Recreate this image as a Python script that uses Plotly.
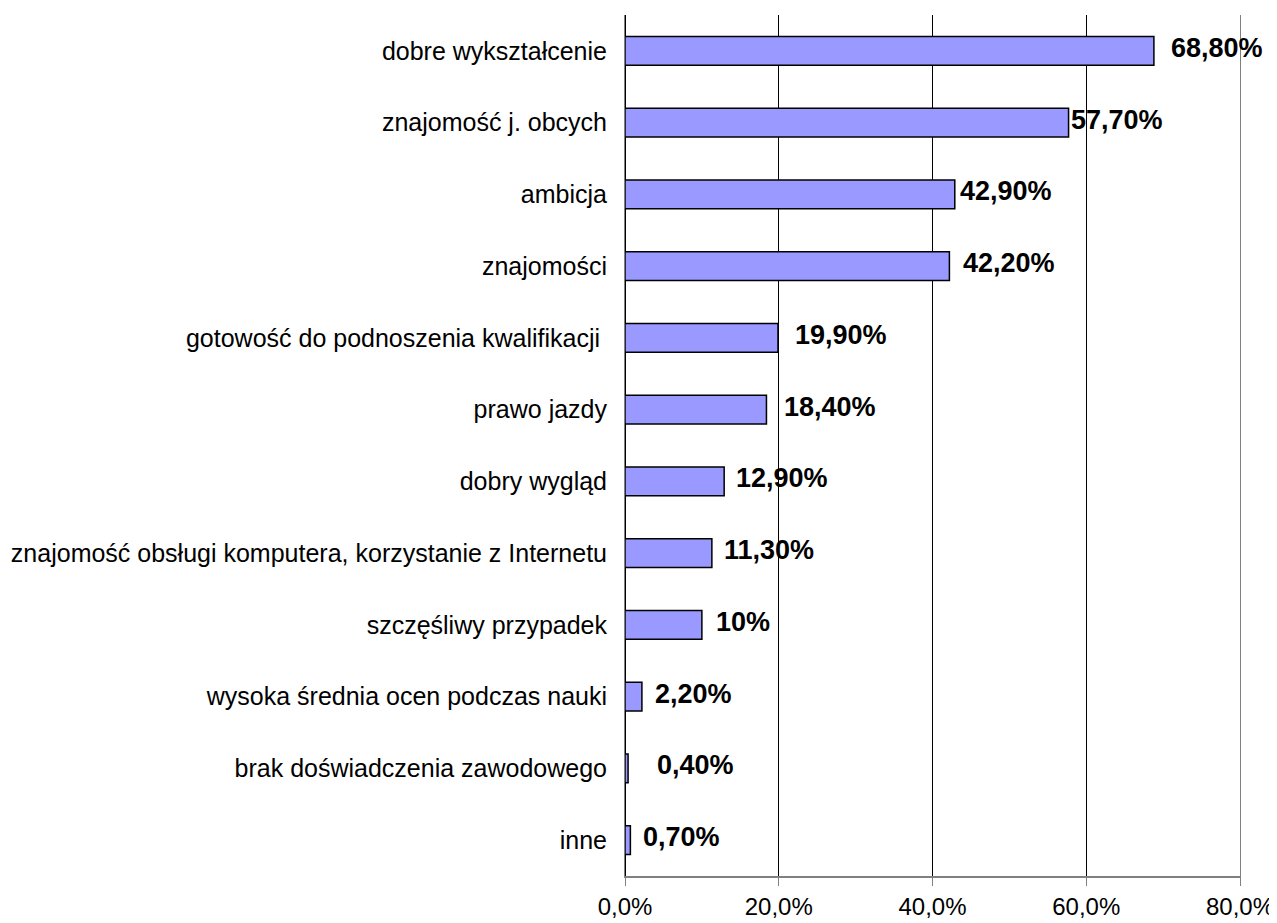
import plotly.graph_objects as go

categories = [
    "dobre wykształcenie",
    "znajomość j. obcych",
    "ambicja",
    "znajomości",
    "gotowość do podnoszenia kwalifikacji ",
    "prawo jazdy",
    "dobry wygląd",
    "znajomość obsługi komputera, korzystanie z Internetu",
    "szczęśliwy przypadek",
    "wysoka średnia ocen podczas nauki",
    "brak doświadczenia zawodowego",
    "inne",
]
values = [68.8, 57.7, 42.9, 42.2, 19.9, 18.4, 12.9, 11.3, 10.0, 2.2, 0.4, 0.7]
value_labels = ["68,80%", "57,70%", "42,90%", "42,20%", "19,90%", "18,40%",
                "12,90%", "11,30%", "10%", "2,20%", "0,40%", "0,70%"]
x_ticks = [0, 20, 40, 60, 80]
x_tick_labels = ["0,0%", "20,0%", "40,0%", "60,0%", "80,0%"]

# label gaps after the bar end, as in the source picture
label_shift = [15, 0, 3, 12, 15, 16, 10, 10, 12, 11, 27, 11]

FONT = "Liberation Sans, Arial, sans-serif"

fig = go.Figure()
fig.add_trace(go.Bar(
    y=categories, x=values, orientation="h",
    marker=dict(color="#9999FF", line=dict(color="#000000", width=1.5)),
    width=0.4,
    hoverinfo="skip",
))

annotations = []
for cat, val, lab, dx in zip(categories, values, value_labels, label_shift):
    annotations.append(dict(
        x=val, y=cat, xref="x", yref="y", text=f"<b>{lab}</b>",
        showarrow=False, xanchor="left", yanchor="middle",
        xshift=dx, yshift=3,
        font=dict(family=FONT, size=27, color="#000000"),
    ))

# the page body has an 8px margin, so the figure is a bit smaller than the window
fig.update_layout(
    width=1269, height=915,
    margin=dict(l=617, r=37, t=7, b=47),
    paper_bgcolor="white", plot_bgcolor="white",
    font=dict(family=FONT, size=25, color="#000000"),
    showlegend=False,
    annotations=annotations,
)
fig.update_xaxes(
    range=[0, 80], tickvals=x_ticks, ticktext=x_tick_labels,
    showgrid=True, gridcolor="#000000", gridwidth=1,
    showline=True, linecolor="#808080", linewidth=2,
    ticks="outside", ticklen=8, tickcolor="#808080",
    tickfont=dict(size=24), automargin=False,
    zeroline=True, zerolinecolor="#000000", zerolinewidth=1,
)
fig.update_yaxes(
    autorange="reversed", showgrid=False,
    showline=True, mirror=True, linecolor="#808080", linewidth=1,
    ticks="", ticklabelstandoff=12, automargin=False,
    tickfont=dict(size=25),
)

fig.write_html("out.html")
